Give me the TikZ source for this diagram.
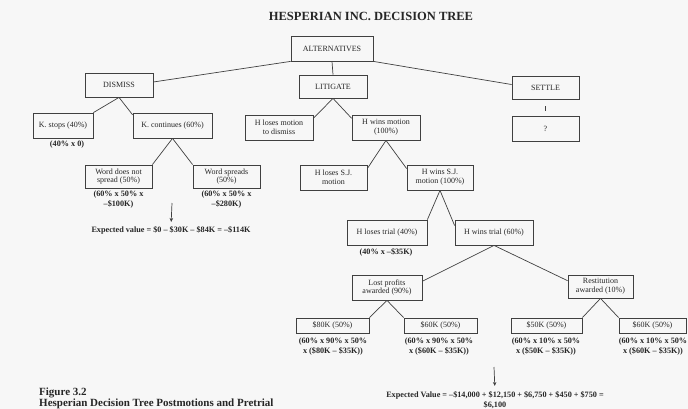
\documentclass[tikz,border=0pt]{standalone}
\usepackage{fontspec}
\setmainfont{Liberation Serif}
\usetikzlibrary{arrows.meta}
\definecolor{bg}{HTML}{F7F7F7}
\definecolor{ln}{HTML}{404040}
\definecolor{tx}{HTML}{262626}
\begin{document}
\begin{tikzpicture}[x=1pt,y=-1pt,
  box/.style={draw=ln, line width=0.8pt, inner sep=1pt, align=center, text=tx,
    font=\fontsize{8}{8.6}\selectfont},
  lab/.style={inner sep=0pt, align=center, text=tx, font=\bfseries\fontsize{8.2}{10}\selectfont},
  conn/.style={draw=ln, line width=0.7pt},
  arr/.style={draw=ln, line width=0.7pt, -{Stealth[length=4pt,width=3.5pt]}}]
\fill[bg] (0,0) rectangle (688,409);
\useasboundingbox (0,0) rectangle (688,409);

\node[text=tx, font=\bfseries\fontsize{12.5}{14}\selectfont] (title) at (371,16) {HESPERIAN INC. DECISION TREE};

% level 0/1
\node[box, minimum width=82pt, minimum height=25pt] (alt) at (332,48.5) {ALTERNATIVES};
\node[box, minimum width=68pt, minimum height=24pt] (dis) at (119,85) {DISMISS};
\node[box, minimum width=68pt, minimum height=23pt] (lit) at (333,86.5) {LITIGATE};
\node[box, minimum width=67pt, minimum height=23pt] (set) at (545.5,87.5) {SETTLE};
\node[box, minimum width=67pt, minimum height=25pt] (q) at (545.5,128.5) {?};

% dismiss branch
\node[box, minimum width=60pt, minimum height=25pt] (kst) at (63,125.5) {K. stops (40\%)};
\node[box, minimum width=79pt, minimum height=25pt] (kco) at (172.5,125.5) {K. continues (60\%)};
\node[lab] (f1) at (67,145) {(40\% x 0)};
\node[box, minimum width=67pt, minimum height=23pt] (wdn) at (118.5,176.5) {Word does not\\spread (50\%)};
\node[box, minimum width=67pt, minimum height=23pt] (wsp) at (226.5,176.5) {Word spreads\\(50\%)};
\node[lab] (f2) at (118.5,200) {(60\% x 50\% x\\–\$100K)};
\node[lab] (f3) at (226.5,200) {(60\% x 50\% x\\–\$280K)};
\coordinate (a1s) at (172,203);
\node[lab] (ev1) at (171,230) {Expected value = \$0 – \$30K – \$84K = –\$114K};

% litigate branch
\node[box, minimum width=68pt, minimum height=25pt] (hlm) at (279,127.5) {H loses motion\\to dismiss};
\node[box, minimum width=68pt, minimum height=25pt] (hwm) at (386,127.5) {H wins motion\\(100\%)};
\node[box, minimum width=67pt, minimum height=25pt] (hls) at (333.5,177.5) {H loses S.J.\\motion};
\node[box, minimum width=66pt, minimum height=25pt] (hws) at (440,177.5) {H wins S.J.\\motion (100\%)};
\node[box, minimum width=80pt, minimum height=25pt] (hlt) at (387,232.5) {H loses trial (40\%)};
\node[box, minimum width=78pt, minimum height=25pt] (hwt) at (494,232.5) {H wins trial (60\%)};
\node[lab] (f4) at (386,252) {(40\% x –\$35K)};
\node[box, minimum width=70pt, minimum height=25pt] (lpa) at (387,287.5) {Lost profits\\awarded (90\%)};
\node[box, minimum width=65pt, minimum height=23pt] (rea) at (600.5,286.5) {Restitution\\awarded (10\%)};
\node[box, minimum width=73pt, minimum height=15pt] (b1) at (332.5,325.5) {\$80K (50\%)};
\node[box, minimum width=73pt, minimum height=15pt] (b2) at (440.5,325.5) {\$60K (50\%)};
\node[box, minimum width=71pt, minimum height=15pt] (b3) at (546.5,325.5) {\$50K (50\%)};
\node[box, minimum width=67pt, minimum height=15pt] (b4) at (652.5,325.5) {\$60K (50\%)};
\node[lab] (f5) at (333,347) {(60\% x 90\% x 50\%\\x (\$80K – \$35K))};
\node[lab] (f6) at (439,347) {(60\% x 90\% x 50\%\\x (\$60K – \$35K))};
\node[lab] (f7) at (546,347) {(60\% x 10\% x 50\%\\x (\$50K – \$35K))};
\node[lab] (f8) at (653,347) {(60\% x 10\% x 50\%\\x (\$60K – \$35K))};
\coordinate (a2s) at (494,367);
\node[lab, anchor=north] (ev2) at (495,391) {Expected Value = –\$14,000 + \$12,150 + \$6,750 + \$450 + \$750 =\\\$6,100};

% caption
\node[anchor=base west, inner sep=0pt, text=tx, font=\bfseries\fontsize{11}{12}\selectfont] (cap1) at (39,395.5) {Figure 3.2};
\node[anchor=base west, inner sep=0pt, text=tx, font=\bfseries\fontsize{11}{12}\selectfont] (cap2) at (39,406.5) {Hesperian Decision Tree Postmotions and Pretrial};

% connectors
\draw[conn] (alt.south west) -- (dis.5);
\draw[conn] (alt.south) -- (lit.north);
\draw[conn] (alt.south east) -- (set.175);
\draw[conn, shorten <=7pt, shorten >=5pt] (set.south) -- (q.north);
\draw[conn] (dis.south) -- (kst.north east);
\draw[conn] (dis.south) -- (kco.165);
\draw[conn] (kco.south) -- (wdn.north east);
\draw[conn] (kco.south) -- (wsp.north west);
\draw[arr, shorten >=4pt] (a1s) -- (ev1.north);
\draw[conn] (lit.south) -- (hlm.15);
\draw[conn] (lit.south) -- (hwm.165);
\draw[conn] (hwm.south) -- (hls.15);
\draw[conn] (hwm.south) -- (hws.165);
\draw[conn] (hws.south) -- (hlt.north east);
\draw[conn] (hws.south) -- (hwt.170);
\draw[conn] (hwt.south) -- (lpa.10);
\draw[conn] (hwt.south) -- (rea.170);
\draw[conn] (lpa.south) -- (b1.north east);
\draw[conn] (lpa.south) -- (b2.north west);
\draw[conn] (rea.south) -- (b3.north east);
\draw[conn] (rea.south) -- (b4.north west);
\draw[arr, shorten >=5pt] (a2s) -- (ev2.north);
\end{tikzpicture}
\end{document}
